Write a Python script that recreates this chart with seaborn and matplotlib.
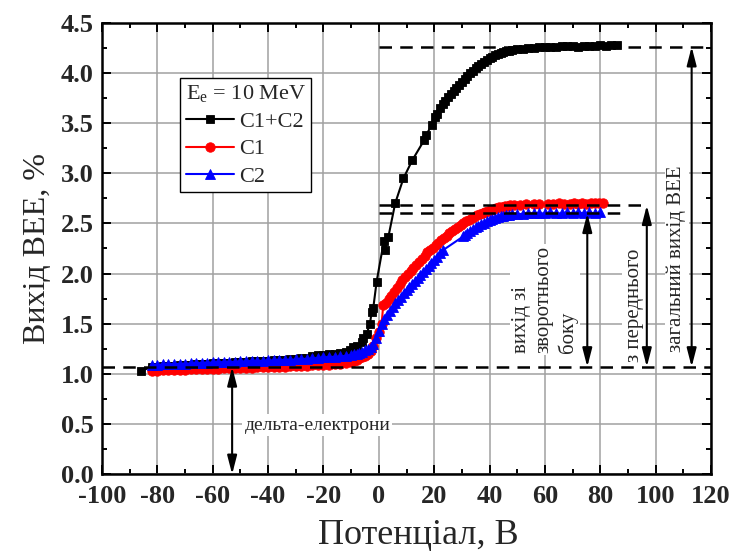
import matplotlib
matplotlib.use("Agg")
import matplotlib.pyplot as plt
import seaborn as sns
from matplotlib.ticker import MultipleLocator, FormatStrFormatter

sns.set_style("ticks")
plt.rcParams["font.family"] = ["Liberation Serif", "DejaVu Serif"]
plt.rcParams["mathtext.fontset"] = "custom"
plt.rcParams["mathtext.rm"] = "Liberation Serif"
plt.rcParams["axes.unicode_minus"] = False

# C1+C2 (black squares)
c12_x = [-86, -82, -80, -78, -76, -74, -72, -70, -68, -66, -64, -62, -60, -58, -56,
         -54, -52, -50, -48, -46, -44, -42, -40, -38, -36, -34, -32, -30, -28, -26,
         -24, -22, -20, -18, -16, -14, -12, -10.4, -9.2, -8, -6.2, -5.6, -4.4, -3.2,
         -2.6, -2, -0.8, 1.8, 2.2, 3.4, 5.9, 8.9, 12.1, 16.4, 17.1, 19.1, 20.3, 20.9,
         22.1, 23, 23.9, 25.1, 26, 27, 28, 29, 30, 31, 32, 33, 34, 35, 36, 37, 38, 39,
         40, 41, 42, 43, 44, 45, 46, 47, 48, 50, 52, 54, 56, 58, 60, 62, 64, 66, 68,
         70, 72, 74, 76, 78, 80, 82, 84, 86]
c12_y = [1.03, 1.07, 1.07, 1.075, 1.08, 1.08, 1.085, 1.09, 1.09, 1.095, 1.10, 1.10,
         1.105, 1.105, 1.11, 1.11, 1.115, 1.12, 1.12, 1.125, 1.125, 1.13, 1.13, 1.135,
         1.14, 1.14, 1.145, 1.15, 1.155, 1.16, 1.18, 1.185, 1.19, 1.195, 1.20, 1.21,
         1.22, 1.24, 1.27, 1.28, 1.32, 1.36, 1.40, 1.50, 1.62, 1.66, 1.92, 2.32, 2.23,
         2.36, 2.70, 2.95, 3.13, 3.33, 3.38, 3.48, 3.56, 3.59, 3.65, 3.69, 3.72, 3.76,
         3.79, 3.82, 3.85, 3.88, 3.91, 3.94, 3.97, 4.00, 4.02, 4.05, 4.07, 4.09, 4.11,
         4.13, 4.15, 4.16, 4.18, 4.19, 4.20, 4.21, 4.22, 4.22, 4.23, 4.24, 4.24, 4.25,
         4.25, 4.26, 4.26, 4.26, 4.26, 4.27, 4.27, 4.27, 4.26, 4.27, 4.27, 4.27, 4.28,
         4.27, 4.28, 4.28]

# C1 (red circles)
c1_x = [-82, -80, -78, -76, -74, -72, -70, -68, -66, -64, -62, -60, -58, -56, -54,
        -52, -50, -48, -46, -44, -42, -40, -38, -36, -34, -32, -30, -28, -26, -24,
        -22, -20, -18, -16, -14, -12, -10, -9, -8, -7, -6, -5, -4, -3, -2, -1, 0, 1,
        1.6, 2.5, 3.5, 4.5, 5.5, 6.5, 7.5, 8.5, 9.5, 10.5, 11.5, 12.5, 13.5, 14.5,
        15.5, 16.5, 17.5, 18.5, 19.5, 20.5, 21.5, 22.5, 23.5, 24.5, 25.5, 26.5, 27.5,
        28.5, 29.5, 30.5, 31.5, 32.5, 33.5, 34.5, 35.5, 36.5, 37.5, 38.5, 39.5, 40.5,
        41.5, 42.5, 43.5, 44.5, 45.5, 46.5, 47.5, 49, 51, 53, 56, 58, 61, 63, 65, 67,
        69, 70.5, 72, 73.5, 75, 76.5, 78, 79.5, 81]
c1_y = [1.03, 1.03, 1.035, 1.035, 1.04, 1.04, 1.04, 1.045, 1.045, 1.045, 1.05, 1.05,
        1.05, 1.055, 1.055, 1.055, 1.06, 1.06, 1.06, 1.065, 1.065, 1.065, 1.07, 1.07,
        1.07, 1.075, 1.075, 1.08, 1.08, 1.085, 1.085, 1.09, 1.09, 1.095, 1.10, 1.11,
        1.12, 1.13, 1.14, 1.155, 1.165, 1.18, 1.20, 1.23, 1.28, 1.36, 1.42, 1.50,
        1.69, 1.71, 1.75, 1.78, 1.82, 1.86, 1.90, 1.94, 1.97, 2.00, 2.03, 2.06, 2.09,
        2.12, 2.15, 2.18, 2.21, 2.23, 2.25, 2.28, 2.30, 2.33, 2.35, 2.37, 2.40, 2.42,
        2.44, 2.46, 2.48, 2.50, 2.52, 2.53, 2.55, 2.56, 2.58, 2.59, 2.60, 2.61, 2.62,
        2.63, 2.64, 2.65, 2.66, 2.66, 2.67, 2.67, 2.68, 2.68, 2.68, 2.69, 2.69, 2.69,
        2.69, 2.69, 2.70, 2.69, 2.69, 2.70, 2.69, 2.70, 2.69, 2.70, 2.70, 2.70, 2.70]

# C2 (blue triangles)
c2_x = [-82, -80, -78, -76, -74, -72, -70, -68, -66, -64, -62, -60, -58, -56, -54,
        -52, -50, -48, -46, -44, -42, -40, -38, -36, -34, -32, -30, -28, -26, -24,
        -22, -20, -18, -16, -14, -12, -10, -9, -8, -7, -6, -5, -4, -3, -2, -1, 0, 1,
        2, 3, 4, 5, 6, 7, 8, 9, 10, 11, 12, 13, 14, 15, 16, 17, 18, 19, 20, 21, 22,
        23, 30.5, 31, 32, 33, 34, 35, 36, 37, 38, 39, 40, 41, 42, 43, 44, 45, 46, 47,
        48, 50, 52, 54, 56, 58, 60, 62, 64, 66, 68, 70, 72, 74, 76, 78, 80]
c2_y = [1.09, 1.09, 1.095, 1.095, 1.10, 1.10, 1.10, 1.105, 1.105, 1.11, 1.11, 1.115,
        1.115, 1.12, 1.12, 1.12, 1.125, 1.125, 1.13, 1.13, 1.13, 1.135, 1.135, 1.14,
        1.14, 1.14, 1.145, 1.15, 1.15, 1.155, 1.16, 1.165, 1.17, 1.17, 1.175, 1.18,
        1.19, 1.195, 1.20, 1.21, 1.22, 1.235, 1.25, 1.27, 1.30, 1.36, 1.43, 1.50,
        1.55, 1.59, 1.63, 1.67, 1.71, 1.74, 1.77, 1.81, 1.84, 1.87, 1.90, 1.93, 1.96,
        1.99, 2.02, 2.05, 2.08, 2.11, 2.14, 2.17, 2.20, 2.23, 2.37, 2.38, 2.40, 2.42,
        2.44, 2.46, 2.47, 2.49, 2.50, 2.52, 2.53, 2.54, 2.55, 2.56, 2.57, 2.575, 2.58,
        2.585, 2.59, 2.59, 2.595, 2.60, 2.60, 2.60, 2.60, 2.61, 2.60, 2.60, 2.61,
        2.60, 2.61, 2.60, 2.61, 2.60, 2.61]

# reference levels (dashed) and arrows
level_delta = 1.07
level_back = 2.60
level_front = 2.68
level_total = 4.26

fig = plt.figure(figsize=(7.34, 5.59), dpi=100)
ax = fig.add_axes([0.139, 0.1515, 0.8297, 0.808])
ax.set_axisbelow(True)
ax.grid(True, which="major", color="#a0a0a0", lw=1.1)

series = [
    (c12_x, c12_y, "black", "s", 6.0, "C1+C2"),
    (c1_x, c1_y, "red", "o", 6.8, "C1"),
    (c2_x, c2_y, "blue", "^", 7.2, "C2"),
]
for xs, ys, col, mk, ms, lab in series:
    sns.lineplot(x=xs, y=ys, ax=ax, color=col, marker=mk, markersize=ms,
                 markeredgecolor=col, markeredgewidth=0.6, lw=1.5,
                 sort=False, estimator=None, label=lab)

dash = (0, (5, 3.3))
ax.plot([-100, 120], [level_delta, level_delta], color="k", ls=dash, lw=1.8, zorder=4)
ax.plot([0, 90], [level_back, level_back], color="k", ls=dash, lw=1.8, zorder=4)
ax.plot([0, 97], [level_front, level_front], color="k", ls=dash, lw=1.8, zorder=4)
ax.plot([0, 120], [level_total, level_total], color="k", ls=dash, lw=1.8, zorder=4)

box = dict(fc="white", ec="none", pad=1.5)
ax.text(-48.5, 0.49, "дельта-електрони", fontsize=14, ha="left", va="center", bbox=box)
ax.text(60, 1.21, "вихід зі\nзворотнього\nбоку", fontsize=15, rotation=90,
        ha="center", va="bottom", multialignment="left", linespacing=1.25, bbox=box)
ax.text(92.2, 1.12, "з переднього", fontsize=15, rotation=90,
        ha="center", va="bottom", bbox=box)
ax.text(107.6, 1.22, "загальний вихід ВЕЕ", fontsize=15, rotation=90,
        ha="center", va="bottom", bbox=box)

arrows = [(-53, 0.0, level_delta), (75.3, level_delta, level_back),
          (96.8, level_delta, level_front), (113, level_delta, level_total)]
for ax_x, y0, y1 in arrows:
    ax.annotate("", xy=(ax_x, y1), xytext=(ax_x, y0), zorder=5,
                arrowprops=dict(arrowstyle="<|-|>,head_length=0.7,head_width=0.18",
                                color="k", lw=1.5, shrinkA=0, shrinkB=0,
                                mutation_scale=16))

ax.set_xlim(-100, 120)
ax.set_ylim(0, 4.5)
ax.xaxis.set_major_locator(MultipleLocator(20))
ax.xaxis.set_minor_locator(MultipleLocator(10))
ax.yaxis.set_major_locator(MultipleLocator(0.5))
ax.yaxis.set_minor_locator(MultipleLocator(0.25))
ax.yaxis.set_major_formatter(FormatStrFormatter("%.1f"))
ax.tick_params(which="both", direction="in", top=True, right=True, width=1.4, color="k")
ax.tick_params(which="major", length=6.5, labelsize=19)
ax.tick_params(axis="x", which="major", pad=8)
ax.tick_params(axis="y", which="major", pad=6)
ax.tick_params(which="minor", length=3.5)
for lab in ax.get_xticklabels() + ax.get_yticklabels():
    lab.set_fontweight("bold")
for sp in ax.spines.values():
    sp.set_linewidth(1.8)
    sp.set_color("k")

ax.set_xlabel("Потенціал, В", fontsize=26)
ax.set_ylabel("Вихід ВЕЕ, %", fontsize=23, labelpad=6)
ax.xaxis.set_label_coords(0.519, -0.1)

handles, labels = ax.get_legend_handles_labels()
leg = ax.legend(handles, labels, title="E$_{\\mathrm{e}}$ = 10 MeV", loc="upper left",
                bbox_to_anchor=(0.128, 0.878), borderaxespad=0, fancybox=False,
                edgecolor="black", framealpha=1, fontsize=16, title_fontsize=16,
                handlelength=2.2, handletextpad=0.2, labelspacing=0.3,
                borderpad=0.25, alignment="left")
leg.get_frame().set_linewidth(1.0)

fig.savefig("out.png", dpi=100)
